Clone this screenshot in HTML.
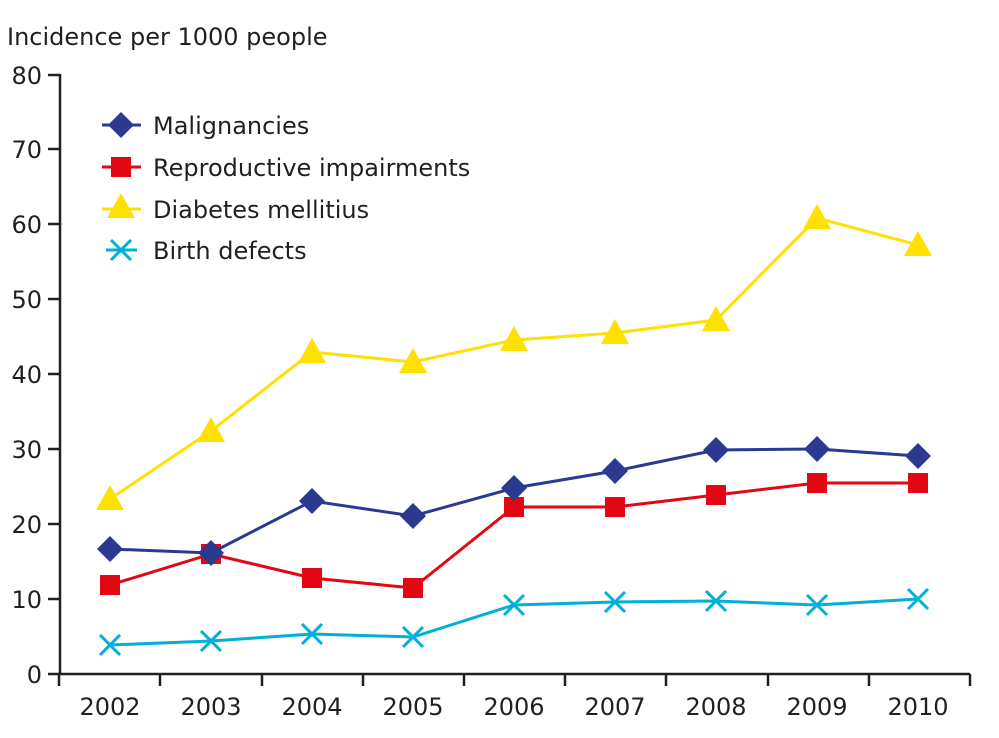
<!DOCTYPE html>
<html><head><meta charset="utf-8"><style>body{margin:0;background:#fff}svg{display:block}text{font-family:"DejaVu Sans","Liberation Sans",sans-serif;fill:#231f20}</style></head><body>
<svg width="999" height="738" viewBox="0 0 999 738">
<text x="7" y="45" font-size="24">Incidence per 1000 people</text>
<g stroke="#231f20" stroke-width="2.5" fill="none">
<line x1="60" y1="74" x2="60" y2="674"/>
<line x1="59" y1="674" x2="970" y2="674"/>
<line x1="48" y1="75" x2="60" y2="75"/><line x1="48" y1="149" x2="60" y2="149"/><line x1="48" y1="224" x2="60" y2="224"/><line x1="48" y1="299" x2="60" y2="299"/><line x1="48" y1="374" x2="60" y2="374"/><line x1="48" y1="449" x2="60" y2="449"/><line x1="48" y1="524" x2="60" y2="524"/><line x1="48" y1="599" x2="60" y2="599"/><line x1="48" y1="674" x2="60" y2="674"/>
<line x1="59" y1="674" x2="59" y2="686"/><line x1="160" y1="674" x2="160" y2="686"/><line x1="262" y1="674" x2="262" y2="686"/><line x1="363" y1="674" x2="363" y2="686"/><line x1="464" y1="674" x2="464" y2="686"/><line x1="565" y1="674" x2="565" y2="686"/><line x1="666" y1="674" x2="666" y2="686"/><line x1="768" y1="674" x2="768" y2="686"/><line x1="869" y1="674" x2="869" y2="686"/><line x1="970" y1="674" x2="970" y2="686"/>
</g>
<g font-size="24" text-anchor="end">
<text x="42" y="84">80</text><text x="42" y="158">70</text><text x="42" y="233">60</text><text x="42" y="308">50</text><text x="42" y="383">40</text><text x="42" y="458">30</text><text x="42" y="533">20</text><text x="42" y="608">10</text><text x="42" y="683">0</text>
</g>
<g font-size="24" text-anchor="middle">
<text x="110" y="715">2002</text><text x="211" y="715">2003</text><text x="312" y="715">2004</text><text x="413" y="715">2005</text><text x="514" y="715">2006</text><text x="615" y="715">2007</text><text x="716" y="715">2008</text><text x="817" y="715">2009</text><text x="918" y="715">2010</text>
</g>
<defs>
<path id="d" d="M0,-13 L13,0 L0,13 L-13,0Z" fill="#2b3990"/>
<rect id="s" x="-10" y="-10" width="20" height="20" fill="#e30613"/>
<path id="t" d="M0,-14 L14,11 L-14,11Z" fill="#ffe000"/>
<path id="x" d="M-10,-10 L10,10 M-10,10 L10,-10" stroke="#00b0d8" stroke-width="3"/>
</defs>
<polyline fill="none" stroke="#ffe000" stroke-width="3" points="110,499 211,431 312,352 413,362 514,340 615,333 716,320 817,218 918,245"/>
<g><use href="#t" x="110" y="499"/><use href="#t" x="211" y="431"/><use href="#t" x="312" y="352"/><use href="#t" x="413" y="362"/><use href="#t" x="514" y="340"/><use href="#t" x="615" y="333"/><use href="#t" x="716" y="320"/><use href="#t" x="817" y="218"/><use href="#t" x="918" y="245"/></g>
<polyline fill="none" stroke="#e30613" stroke-width="3" points="110,585 211,554 312,578 413,588 514,507 615,507 716,495 817,483 918,483"/>
<g><use href="#s" x="110" y="585"/><use href="#s" x="211" y="554"/><use href="#s" x="312" y="578"/><use href="#s" x="413" y="588"/><use href="#s" x="514" y="507"/><use href="#s" x="615" y="507"/><use href="#s" x="716" y="495"/><use href="#s" x="817" y="483"/><use href="#s" x="918" y="483"/></g>
<polyline fill="none" stroke="#2b3990" stroke-width="3" points="110,549 211,553 312,501 413,516 514,488 615,471 716,450 817,449 918,456"/>
<g><use href="#d" x="110" y="549"/><use href="#d" x="211" y="553"/><use href="#d" x="312" y="501"/><use href="#d" x="413" y="516"/><use href="#d" x="514" y="488"/><use href="#d" x="615" y="471"/><use href="#d" x="716" y="450"/><use href="#d" x="817" y="449"/><use href="#d" x="918" y="456"/></g>
<polyline fill="none" stroke="#00b0d8" stroke-width="3" points="110,645 211,641 312,634 413,637 514,605 615,602 716,601 817,605 918,599"/>
<g><use href="#x" x="110" y="645"/><use href="#x" x="211" y="641"/><use href="#x" x="312" y="634"/><use href="#x" x="413" y="637"/><use href="#x" x="514" y="605"/><use href="#x" x="615" y="602"/><use href="#x" x="716" y="601"/><use href="#x" x="817" y="605"/><use href="#x" x="918" y="599"/></g>
<line x1="102" y1="125" x2="141" y2="125" stroke="#2b3990" stroke-width="3"/><use href="#d" x="121" y="125"/>
<line x1="102" y1="167" x2="141" y2="167" stroke="#e30613" stroke-width="3"/><use href="#s" x="121" y="167"/>
<line x1="102" y1="209" x2="141" y2="209" stroke="#ffe000" stroke-width="3"/><use href="#t" x="121" y="207"/>
<line x1="106" y1="250" x2="137" y2="250" stroke="#00b0d8" stroke-width="3"/><use href="#x" x="121" y="250"/>
<g font-size="24"><text x="153" y="134">Malignancies</text><text x="153" y="176">Reproductive impairments</text><text x="153" y="218">Diabetes mellitius</text><text x="153" y="259">Birth defects</text></g>
</svg>
</body></html>
